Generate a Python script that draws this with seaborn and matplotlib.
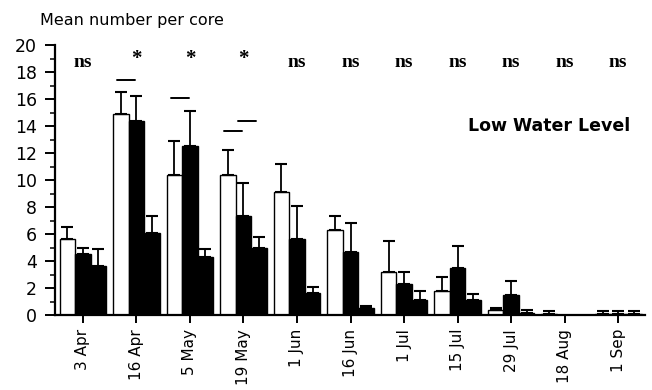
import matplotlib
matplotlib.use("Agg")
import matplotlib.pyplot as plt
from matplotlib.ticker import MultipleLocator
import seaborn as sns
import pandas as pd
import numpy as np

dates = ["3 Apr", "16 Apr", "5 May", "19 May", "1 Jun", "16 Jun", "1 Jul",
         "15 Jul", "29 Jul", "18 Aug", "1 Sep"]
groups = ["A", "B", "C"]

white_mean = [5.6, 14.9, 10.4, 10.4, 9.1, 6.3, 3.2, 1.8, 0.35, 0.1, 0.1]
white_top = [6.5, 16.5, 12.9, 12.2, 11.2, 7.3, 5.5, 2.8, 0.5, 0.3, 0.3]
black1_mean = [4.5, 14.4, 12.5, 7.3, 5.6, 4.7, 2.3, 3.5, 1.5, 0.0, 0.1]
black1_top = [5.0, 16.2, 15.1, 9.8, 8.1, 6.8, 3.2, 5.1, 2.5, 0.0, 0.3]
black2_mean = [3.6, 6.1, 4.3, 5.0, 1.6, 0.5, 1.1, 1.1, 0.15, 0.0, 0.1]
black2_top = [4.9, 7.3, 4.9, 5.8, 2.1, 0.7, 1.8, 1.55, 0.35, 0.0, 0.3]

signif = ["ns", "*", "*", "*", "ns", "ns", "ns", "ns", "ns", "ns", "ns"]
# significance bar heights (value units) per date index
sig_lines = [(1, 17.4), (2, 16.1), (3, 13.6), (3, 14.4)]

means = [white_mean, black1_mean, black2_mean]
tops = [white_top, black1_top, black2_top]

rows = []
for g, m, t in zip(groups, means, tops):
    for d, mv, tv in zip(dates, m, t):
        rows.append({"date": d, "group": g, "mean": mv, "err": tv - mv})
df = pd.DataFrame(rows)

sns.set_style("ticks")
plt.rcParams["font.family"] = ["DejaVu Sans"]
for k in ("text.color", "axes.labelcolor", "xtick.color", "ytick.color",
          "axes.edgecolor"):
    plt.rcParams[k] = "black"

fig = plt.figure(figsize=(6.52, 3.90), dpi=100)
ax = fig.add_axes([55 / 652, 1 - 315 / 390, (645 - 55) / 652, 270 / 390])

sns.barplot(data=df, x="date", y="mean", hue="group", order=dates,
            hue_order=groups, palette={"A": "white", "B": "black", "C": "black"},
            edgecolor="black", linewidth=1.0, width=0.87, gap=0,
            errorbar=None, legend=False, ax=ax)

bar_containers = list(ax.containers)
for gi, cont in enumerate(bar_containers):
    sub = df[df["group"] == groups[gi]].set_index("date").loc[dates]
    for bar, (mv, ev) in zip(cont.patches, zip(sub["mean"], sub["err"])):
        if mv <= 0 and ev <= 0:
            continue
        xc = bar.get_x() + bar.get_width() / 2
        ax.errorbar([xc], [mv], yerr=[[0], [ev]], fmt="none", ecolor="black",
                    elinewidth=1.3, capsize=4, capthick=1.5, zorder=3)

for i, s in enumerate(signif):
    ax.text(i, 18.7 if s == "ns" else 19.0, s, ha="center", va="center",
            fontsize=14 if s == "ns" else 15,
            family="Liberation Serif", fontweight="bold")

for i, h in sig_lines:
    off = 0.25 if h == 14.4 else 0.0
    ax.plot([i - 0.36 + off, i - 0.02 + off], [h, h], color="black", lw=1.4)

ax.set_xlim(-0.52, 10.5)
ax.set_ylim(0, 20)
ax.yaxis.set_major_locator(MultipleLocator(2))
ax.yaxis.set_minor_locator(MultipleLocator(1))
ax.tick_params(axis="y", which="major", length=7, width=1.4, labelsize=12.5,
               pad=6)
ax.tick_params(axis="y", which="minor", length=3.5, width=1.1)
ax.tick_params(axis="x", length=6, width=1.4, labelsize=11, labelrotation=90,
               pad=4)
ax.set_xlabel("")
ax.set_ylabel("")
sns.despine(ax=ax)
for sp in ("left", "bottom"):
    ax.spines[sp].set_linewidth(1.6)

fig.text(40 / 652, 1 - 20 / 390, "Mean number per core", ha="left",
         va="center", fontsize=11.5)
ax.text(0.975, 0.70, "Low Water Level", transform=ax.transAxes, ha="right",
        va="center", fontsize=12.5, fontweight="bold")

fig.savefig("out.png", dpi=100, facecolor="white")
